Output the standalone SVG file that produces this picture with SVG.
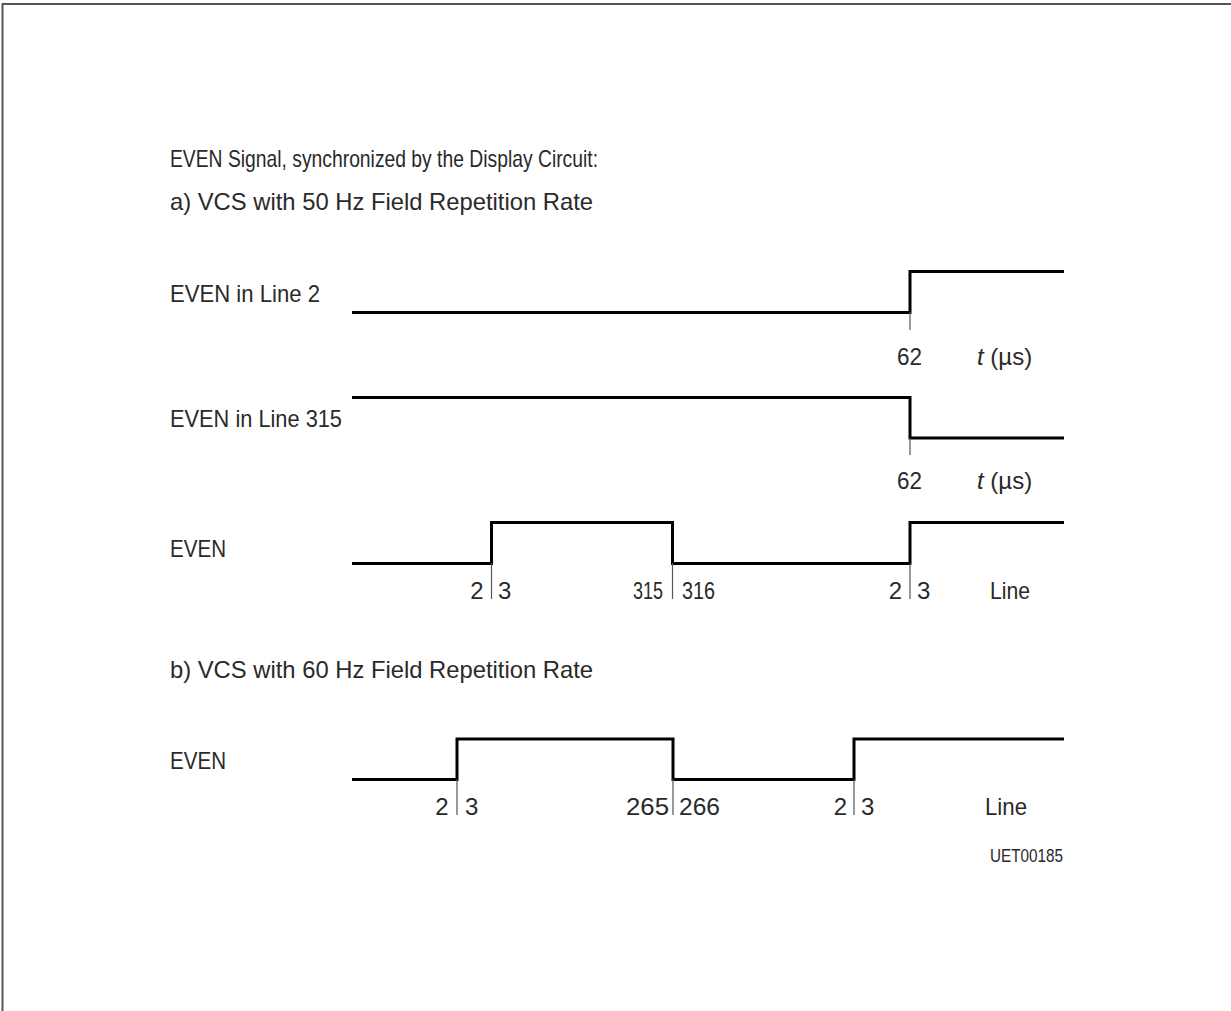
<svg xmlns="http://www.w3.org/2000/svg" width="1231" height="1011" viewBox="0 0 1231 1011">
<style>
text{font-family:"Liberation Sans",Arial,sans-serif;font-size:24px;fill:#2a2a2a;}
.sm{font-size:18px;}
.sig{fill:none;stroke:#000;stroke-width:3;stroke-linejoin:miter;}
.tick{stroke:#555;stroke-width:1.2;}
.frame{fill:none;stroke:#555;stroke-width:2;}
</style>
<rect width="1231" height="1011" fill="#fff"/>
<path class="frame" d="M2.5,1011 V4 H1231"/>
<g id="headings">
<text x="170" y="167" textLength="428" lengthAdjust="spacingAndGlyphs">EVEN Signal, synchronized by the Display Circuit:</text>
<text x="170" y="210" textLength="423" lengthAdjust="spacingAndGlyphs">a) VCS with 50 Hz Field Repetition Rate</text>
<text x="170" y="678" textLength="423" lengthAdjust="spacingAndGlyphs">b) VCS with 60 Hz Field Repetition Rate</text>
</g>
<g id="sig-line2">
<text x="170" y="302" textLength="150" lengthAdjust="spacingAndGlyphs">EVEN in Line 2</text>
<path class="sig" d="M352,312.5 H910 V271.5 H1064"/>
<line class="tick" x1="910" y1="312" x2="910" y2="330"/>
<text x="897" y="365" textLength="25" lengthAdjust="spacingAndGlyphs">62</text>
<text x="977" y="365"><tspan font-style="italic">t</tspan> (µs)</text>
</g>
<g id="sig-line315">
<text x="170" y="427" textLength="172" lengthAdjust="spacingAndGlyphs">EVEN in Line 315</text>
<path class="sig" d="M352,397.5 H910 V438 H1064"/>
<line class="tick" x1="910" y1="438" x2="910" y2="455"/>
<text x="897" y="489" textLength="25" lengthAdjust="spacingAndGlyphs">62</text>
<text x="977" y="489"><tspan font-style="italic">t</tspan> (µs)</text>
</g>
<g id="sig-even-50">
<text x="170" y="557" textLength="56" lengthAdjust="spacingAndGlyphs">EVEN</text>
<path class="sig" d="M352,563.5 H491.5 V522.5 H672.5 V563.5 H910 V522.5 H1064"/>
<line class="tick" x1="491.5" y1="563" x2="491.5" y2="599"/>
<line class="tick" x1="672.5" y1="563" x2="672.5" y2="599"/>
<line class="tick" x1="910" y1="563" x2="910" y2="599"/>
<text x="483.5" y="599" text-anchor="end">2</text>
<text x="498" y="599">3</text>
<text x="633" y="599" textLength="30" lengthAdjust="spacingAndGlyphs">315</text>
<text x="682" y="599" textLength="33" lengthAdjust="spacingAndGlyphs">316</text>
<text x="902" y="599" text-anchor="end">2</text>
<text x="917" y="599">3</text>
<text x="990" y="599" textLength="40" lengthAdjust="spacingAndGlyphs">Line</text>
</g>
<g id="sig-even-60">
<text x="170" y="769" textLength="56" lengthAdjust="spacingAndGlyphs">EVEN</text>
<path class="sig" d="M352,779.5 H457 V739 H673 V779.5 H854 V739 H1064"/>
<line class="tick" x1="457" y1="779" x2="457" y2="815"/>
<line class="tick" x1="673" y1="779" x2="673" y2="815"/>
<line class="tick" x1="854" y1="779" x2="854" y2="815"/>
<text x="448.5" y="815" text-anchor="end">2</text>
<text x="465" y="815">3</text>
<text x="626" y="815" textLength="43" lengthAdjust="spacingAndGlyphs">265</text>
<text x="679" y="815" textLength="41" lengthAdjust="spacingAndGlyphs">266</text>
<text x="847" y="815" text-anchor="end">2</text>
<text x="861" y="815">3</text>
<text x="985" y="815" textLength="42" lengthAdjust="spacingAndGlyphs">Line</text>
</g>
<text class="sm" id="ref" x="990" y="862" textLength="73" lengthAdjust="spacingAndGlyphs">UET00185</text>
</svg>
